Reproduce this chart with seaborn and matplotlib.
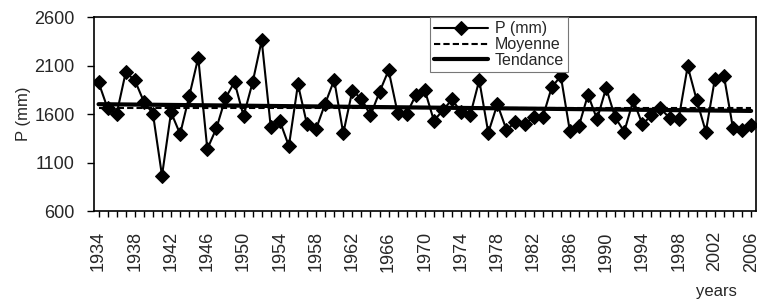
import matplotlib
matplotlib.use('Agg')
import matplotlib.pyplot as plt
from matplotlib.ticker import MultipleLocator
import numpy as np
import pandas as pd
import seaborn as sns

# annual precipitation (mm), 1934-2006
years = list(range(1934, 2007))
precip = [1929, 1660, 1605, 2032, 1950, 1729, 1605, 965, 1619, 1395,
          1784, 2183, 1240, 1454, 1764, 1932, 1581, 1929, 2362, 1467,
          1529, 1271, 1908, 1495, 1447, 1708, 1953, 1402, 1842, 1760,
          1588, 1829, 2053, 1612, 1605, 1795, 1846, 1533, 1640, 1753,
          1619, 1588, 1950, 1409, 1702, 1440, 1516, 1495, 1574, 1567,
          1877, 1994, 1426, 1478, 1801, 1547, 1870, 1567, 1419, 1743,
          1495, 1588, 1660, 1560, 1550, 2094, 1743, 1419, 1963, 1994,
          1454, 1433, 1488]

df = pd.DataFrame({'year': years, 'P': precip})
mean_p = df['P'].mean()
slope, icpt = np.polyfit(df['year'], df['P'], 1)
df['Moyenne'] = mean_p
df['Tendance'] = slope * df['year'] + icpt

sns.set_style('ticks')
plt.rcParams['font.family'] = ['Liberation Sans', 'DejaVu Sans']

fig = plt.figure(figsize=(7.6, 3.03), dpi=100)
ax = fig.add_axes([0.1237, 0.3036, 0.8706, 0.6393])

sns.lineplot(data=df, x='year', y='P', ax=ax, color='black', lw=1.5,
             marker='D', markersize=7, markeredgecolor='black', label='P (mm)')
sns.lineplot(data=df, x='year', y='Moyenne', ax=ax, color='black', lw=1.5,
             linestyle=(0, (3, 1.5)), label='Moyenne')
sns.lineplot(data=df, x='year', y='Tendance', ax=ax, color='black', lw=3,
             label='Tendance')

ax.set_xlim(1933.5, 2006.5)
ax.set_ylim(600, 2600)
ax.set_yticks([600, 1100, 1600, 2100, 2600])
ax.set_xticks(list(range(1934, 2007, 4)))
ax.xaxis.set_minor_locator(MultipleLocator(1))
ax.tick_params(axis='x', which='both', length=4.5, width=1, color='black',
               labelrotation=90, labelsize=13, pad=10)
ax.tick_params(axis='y', length=5, width=1, color='black', labelsize=13, pad=9)
for s in ax.spines.values():
    s.set_visible(True)
    s.set_color('black')
    s.set_linewidth(1.2)

ax.set_ylabel('P (mm)', fontsize=12, labelpad=2)
ax.set_xlabel('years', fontsize=12)
ax.xaxis.set_label_coords(0.94, -0.375)

leg = ax.legend(loc='upper left', bbox_to_anchor=(0.508, 1.0), borderaxespad=0,
                fontsize=11.5, frameon=True, fancybox=False, framealpha=1,
                edgecolor='#777777', handlelength=3.4, labelspacing=0.05,
                borderpad=0.25, handletextpad=0.4)
leg.get_frame().set_linewidth(0.8)

fig.savefig('out.png', dpi=100)
